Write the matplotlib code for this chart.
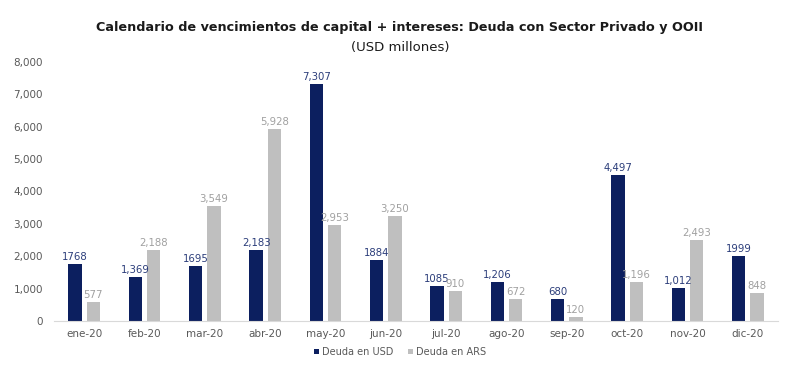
import numpy as np
import matplotlib.pyplot as plt
from matplotlib.ticker import FuncFormatter

## data
months = ['ene-20', 'feb-20', 'mar-20', 'abr-20', 'may-20', 'jun-20',
          'jul-20', 'ago-20', 'sep-20', 'oct-20', 'nov-20', 'dic-20']
deuda_usd = [1768, 1369, 1695, 2183, 7307, 1884, 1085, 1206, 680, 4497, 1012, 1999]
deuda_ars = [577, 2188, 3549, 5928, 2953, 3250, 910, 672, 120, 1196, 2493, 848]
usd_labels = ['1768', '1,369', '1695', '2,183', '7,307', '1884',
              '1085', '1,206', '680', '4,497', '1,012', '1999']
ars_labels = ['577', '2,188', '3,549', '5,928', '2,953', '3,250',
              '910', '672', '120', '1,196', '2,493', '848']

navy = '#0c1f5f'
gray = '#bfbfbf'

fig = plt.figure(figsize=(8, 3.68), dpi=100)
ax = fig.add_axes([0.0675, 0.128, 0.905, 0.704])

x = np.arange(len(months))
w = 0.22
off = 0.15
ax.bar(x - off, deuda_usd, w, color=navy, label='Deuda en USD')
ax.bar(x + off, deuda_ars, w, color=gray, label='Deuda en ARS')

for xi, v, s in zip(x, deuda_usd, usd_labels):
    ax.text(xi - off, v + 60, s, ha='center', va='bottom', fontsize=7.3, color='#2b3d7a')
for xi, v, s in zip(x, deuda_ars, ars_labels):
    ax.text(xi + off, v + 60, s, ha='center', va='bottom', fontsize=7.3, color='#a0a0a0')

ax.set_xlim(-0.5, len(months) - 0.5)
ax.set_ylim(0, 8000)
ax.set_yticks(range(0, 8001, 1000))
ax.yaxis.set_major_formatter(FuncFormatter(lambda v, p: f'{int(v):,}'))
ax.set_xticks(x)
ax.set_xticklabels(months)
ax.tick_params(axis='both', length=0, labelsize=7.5, colors='#595959')
ax.tick_params(axis='y', pad=8)
ax.tick_params(axis='x', pad=6)

for sp in ['top', 'right', 'left']:
    ax.spines[sp].set_visible(False)
ax.spines['bottom'].set_color('#d9d9d9')

fig.text(0.5, 0.925, 'Calendario de vencimientos de capital + intereses: Deuda con Sector Privado y OOII',
         ha='center', va='center', fontsize=9.2, fontweight='bold', color='#1a1a1a')
fig.text(0.5, 0.87, '(USD millones)', ha='center', va='center', fontsize=9.5, color='#1a1a1a')

fig.legend(loc='center', bbox_to_anchor=(0.5, 0.043), ncol=2, frameon=False,
           fontsize=7, handlelength=0.5, handleheight=0.5, handletextpad=0.3,
           columnspacing=1.5, labelcolor='#595959')

fig.savefig('out.png', dpi=100)
